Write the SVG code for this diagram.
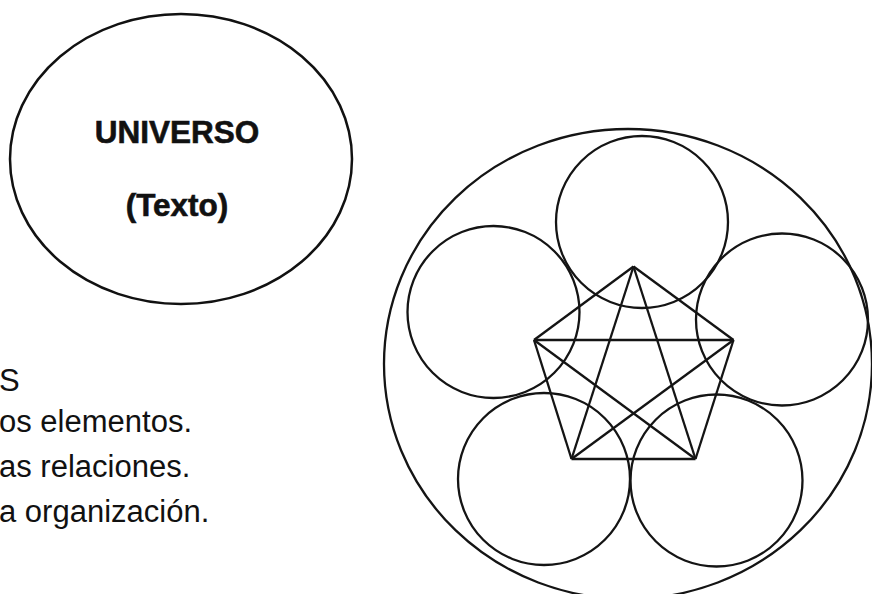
<svg xmlns="http://www.w3.org/2000/svg" width="872" height="594" viewBox="0 0 872 594">
  <style>
    .ln { fill: none; stroke: #141414; stroke-width: 2.3; }
    .lnb { fill: none; stroke: #111; stroke-width: 2.5; }
    .bold { font-family: "Liberation Sans", Arial, sans-serif; font-weight: bold; font-size: 31.5px; fill: #111; stroke: #111; stroke-width: 0.6; text-anchor: middle; }
    .body { font-family: "Liberation Sans", Arial, sans-serif; font-size: 31px; fill: #111; }
  </style>
  <rect width="872" height="594" fill="#ffffff"/>

  <g id="universo">
    <ellipse class="lnb" cx="181" cy="159" rx="171" ry="145"/>
    <text class="bold" x="177" y="142.5">UNIVERSO</text>
    <text class="bold" x="177" y="215.5">(Texto)</text>
  </g>

  <g id="lista">
    <text class="body" x="-1" y="391">S</text>
    <text class="body" x="-1" y="432">os elementos.</text>
    <text class="body" x="-1" y="477">as relaciones.</text>
    <text class="body" x="-1" y="521.5">a organización.</text>
  </g>

  <g id="sistema">
    <ellipse class="ln" cx="628" cy="364" rx="244" ry="235"/>
  </g>

  <g id="circulo-superior"><circle class="ln" cx="642" cy="222" r="86"/></g>
  <g id="circulo-izquierdo"><circle class="ln" cx="493.5" cy="312" r="86"/></g>
  <g id="circulo-derecho"><circle class="ln" cx="782" cy="319.5" r="86"/></g>
  <g id="circulo-inferior-izquierdo"><circle class="ln" cx="544" cy="479" r="86"/></g>
  <g id="circulo-inferior-derecho"><circle class="ln" cx="716.5" cy="480.5" r="86"/></g>

  <g id="connectors">
    <line class="ln" x1="633.5" y1="266.5" x2="534" y2="340"/>
    <line class="ln" x1="633.5" y1="266.5" x2="733.5" y2="340"/>
    <line class="ln" x1="534" y1="340" x2="571.5" y2="459"/>
    <line class="ln" x1="733.5" y1="340" x2="695.5" y2="459"/>
    <line class="ln" x1="571.5" y1="459" x2="695.5" y2="459"/>
    <line class="ln" x1="534" y1="340" x2="733.5" y2="340"/>
    <line class="ln" x1="633.5" y1="266.5" x2="571.5" y2="459"/>
    <line class="ln" x1="633.5" y1="266.5" x2="695.5" y2="459"/>
    <line class="ln" x1="534" y1="340" x2="695.5" y2="459"/>
    <line class="ln" x1="733.5" y1="340" x2="571.5" y2="459"/>
  </g>
</svg>
